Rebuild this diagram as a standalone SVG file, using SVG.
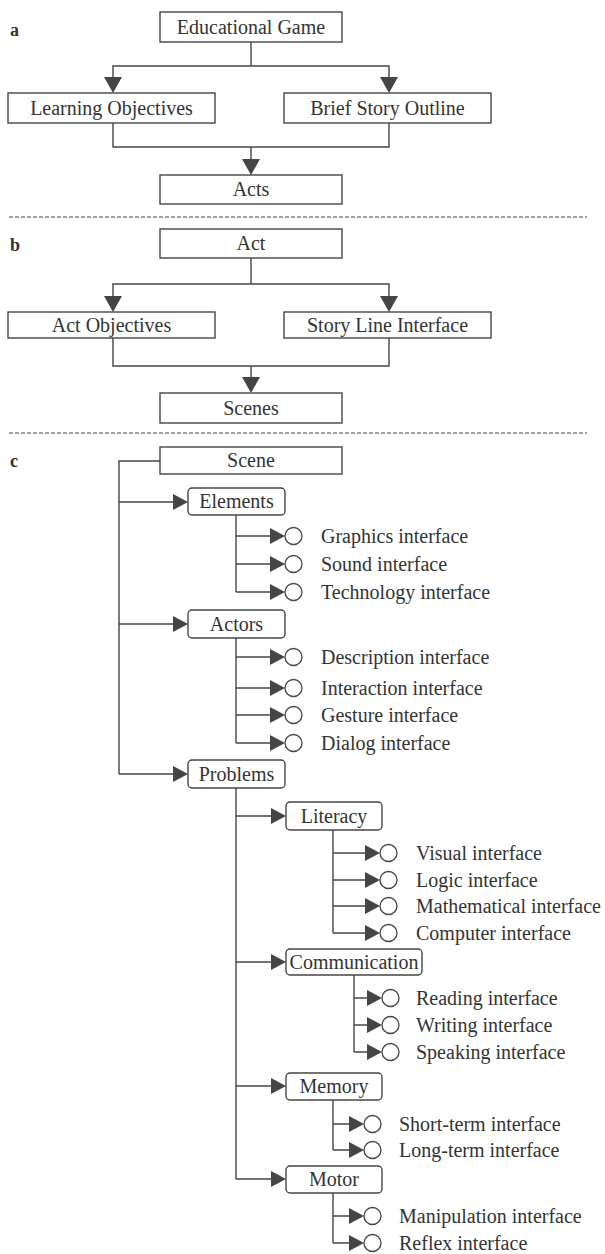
<svg xmlns="http://www.w3.org/2000/svg" width="605" height="1254" viewBox="0 0 605 1254">
<style>
.bg{fill:#ffffff}
.box{fill:#ffffff;stroke:#454545;stroke-width:1.4}
.t{font-family:"Liberation Serif","Times New Roman",serif;font-size:20px;fill:#333333}
.c{text-anchor:middle}
.lab{font-family:"Liberation Serif","Times New Roman",serif;font-size:18px;font-weight:bold;fill:#333333}
.ln{fill:none;stroke:#454545;stroke-width:1.4}
.dash{fill:none;stroke:#444444;stroke-width:1.1;stroke-dasharray:4 2}
.ah{fill:#454545}
.dot{fill:#ffffff;stroke:#454545;stroke-width:1.3}
</style>
<defs>
<path id="ad" d="M-9,-16 L9,-16 L0,0 Z"/>
<path id="ar" d="M-15,-8 L-15,8 L0,0 Z"/>
</defs>
<rect class="bg" x="0" y="0" width="605" height="1254"/>

<g id="section-labels">
<text class="lab" x="10" y="36">a</text>
<text class="lab" x="10" y="251">b</text>
<text class="lab" x="10" y="467">c</text>
</g>
<g id="separators">
<path class="dash" d="M9 217 H587"/>
<path class="dash" d="M9 433 H587"/>
</g>

<g id="connectors">
<path class="ln" d="M251 42 V66 M113 77 V66 H389 V77"/>
<use href="#ad" class="ah" x="113" y="93"/>
<use href="#ad" class="ah" x="389" y="93"/>
<path class="ln" d="M113 123 V147 H389 V123 M251 147 V160"/>
<use href="#ad" class="ah" x="251" y="175"/>

<path class="ln" d="M251 258 V284 M113 296 V284 H389 V296"/>
<use href="#ad" class="ah" x="113" y="312"/>
<use href="#ad" class="ah" x="389" y="312"/>
<path class="ln" d="M113 338 V366 H389 V338 M251 366 V378"/>
<use href="#ad" class="ah" x="251" y="393"/>

<path class="ln" d="M160 461 H119 V774 M119 502 H173 M119 624 H173 M119 774 H173"/>
<use href="#ar" class="ah" x="188" y="502"/>
<use href="#ar" class="ah" x="188" y="624"/>
<use href="#ar" class="ah" x="188" y="774"/>

<path class="ln" d="M236 515 V592 M236 536 H271 M236 564 H271 M236 592 H271"/>
<use href="#ar" class="ah" x="285" y="536"/>
<use href="#ar" class="ah" x="285" y="564"/>
<use href="#ar" class="ah" x="285" y="592"/>

<path class="ln" d="M236 638 V743 M236 657 H271 M236 688 H271 M236 715 H271 M236 743 H271"/>
<use href="#ar" class="ah" x="285" y="657"/>
<use href="#ar" class="ah" x="285" y="688"/>
<use href="#ar" class="ah" x="285" y="715"/>
<use href="#ar" class="ah" x="285" y="743"/>

<path class="ln" d="M236 788 V1179 M236 816 H272 M236 962 H272 M236 1086 H272 M236 1179 H272"/>
<use href="#ar" class="ah" x="286" y="816"/>
<use href="#ar" class="ah" x="286" y="962"/>
<use href="#ar" class="ah" x="286" y="1086"/>
<use href="#ar" class="ah" x="286" y="1179"/>

<path class="ln" d="M333 830 V933 M333 853 H366 M333 880 H366 M333 906 H366 M333 933 H366"/>
<use href="#ar" class="ah" x="380" y="853"/>
<use href="#ar" class="ah" x="380" y="880"/>
<use href="#ar" class="ah" x="380" y="906"/>
<use href="#ar" class="ah" x="380" y="933"/>

<path class="ln" d="M354 975 V1052 M354 998 H368 M354 1025 H368 M354 1052 H368"/>
<use href="#ar" class="ah" x="382" y="998"/>
<use href="#ar" class="ah" x="382" y="1025"/>
<use href="#ar" class="ah" x="382" y="1052"/>

<path class="ln" d="M333 1100 V1150 M333 1124 H350 M333 1150 H350"/>
<use href="#ar" class="ah" x="364" y="1124"/>
<use href="#ar" class="ah" x="364" y="1150"/>

<path class="ln" d="M333 1193 V1243 M333 1216 H350 M333 1243 H350"/>
<use href="#ar" class="ah" x="364" y="1216"/>
<use href="#ar" class="ah" x="364" y="1243"/>
</g>

<g id="n-educational-game"><rect class="box" x="160" y="12" width="182" height="30"/><text class="t c" x="251" y="34">Educational Game</text></g>
<g id="n-learning-objectives"><rect class="box" x="8" y="93" width="207" height="30"/><text class="t c" x="111.5" y="115">Learning Objectives</text></g>
<g id="n-brief-story-outline"><rect class="box" x="284" y="93" width="207" height="30"/><text class="t c" x="387.5" y="115">Brief Story Outline</text></g>
<g id="n-acts"><rect class="box" x="160" y="175" width="182" height="29"/><text class="t c" x="251" y="196">Acts</text></g>

<g id="n-act"><rect class="box" x="160" y="229" width="182" height="29"/><text class="t c" x="251" y="250">Act</text></g>
<g id="n-act-objectives"><rect class="box" x="8" y="312" width="207" height="26"/><text class="t c" x="111.5" y="332">Act Objectives</text></g>
<g id="n-story-line-interface"><rect class="box" x="284" y="312" width="207" height="26"/><text class="t c" x="387.5" y="332">Story Line Interface</text></g>
<g id="n-scenes"><rect class="box" x="160" y="393" width="182" height="30"/><text class="t c" x="251" y="415">Scenes</text></g>

<g id="n-scene"><rect class="box" x="160" y="447" width="182" height="27"/><text class="t c" x="251" y="467">Scene</text></g>
<g id="n-elements"><rect class="box" x="188" y="488" width="97" height="27" rx="4"/><text class="t c" x="236.5" y="508">Elements</text></g>
<g id="n-actors"><rect class="box" x="188" y="610" width="97" height="28" rx="4"/><text class="t c" x="236.5" y="631">Actors</text></g>
<g id="n-problems"><rect class="box" x="188" y="760" width="97" height="28" rx="4"/><text class="t c" x="236.5" y="781">Problems</text></g>
<g id="n-literacy"><rect class="box" x="286" y="802" width="96" height="28" rx="4"/><text class="t c" x="334" y="823">Literacy</text></g>
<g id="n-communication"><rect class="box" x="286" y="949" width="136" height="26" rx="4"/><text class="t c" x="354" y="969">Communication</text></g>
<g id="n-memory"><rect class="box" x="286" y="1073" width="96" height="27" rx="4"/><text class="t c" x="334" y="1093">Memory</text></g>
<g id="n-motor"><rect class="box" x="286" y="1166" width="96" height="27" rx="4"/><text class="t c" x="334" y="1186">Motor</text></g>

<g id="n-graphics"><circle class="dot" cx="293.5" cy="536" r="8.5"/><text class="t" x="321" y="543">Graphics interface</text></g>
<g id="n-sound"><circle class="dot" cx="293.5" cy="564" r="8.5"/><text class="t" x="321" y="571">Sound interface</text></g>
<g id="n-technology"><circle class="dot" cx="293.5" cy="592" r="8.5"/><text class="t" x="321" y="599">Technology interface</text></g>

<g id="n-description"><circle class="dot" cx="293.5" cy="657" r="8.5"/><text class="t" x="321" y="664">Description interface</text></g>
<g id="n-interaction"><circle class="dot" cx="293.5" cy="688" r="8.5"/><text class="t" x="321" y="695">Interaction interface</text></g>
<g id="n-gesture"><circle class="dot" cx="293.5" cy="715" r="8.5"/><text class="t" x="321" y="722">Gesture interface</text></g>
<g id="n-dialog"><circle class="dot" cx="293.5" cy="743" r="8.5"/><text class="t" x="321" y="750">Dialog interface</text></g>

<g id="n-visual"><circle class="dot" cx="388.5" cy="853" r="8.5"/><text class="t" x="416" y="860">Visual  interface</text></g>
<g id="n-logic"><circle class="dot" cx="388.5" cy="880" r="8.5"/><text class="t" x="416" y="887">Logic interface</text></g>
<g id="n-mathematical"><circle class="dot" cx="388.5" cy="906" r="8.5"/><text class="t" x="416" y="913">Mathematical interface</text></g>
<g id="n-computer"><circle class="dot" cx="388.5" cy="933" r="8.5"/><text class="t" x="416" y="940">Computer interface</text></g>

<g id="n-reading"><circle class="dot" cx="390.5" cy="998" r="8.5"/><text class="t" x="416" y="1005">Reading interface</text></g>
<g id="n-writing"><circle class="dot" cx="390.5" cy="1025" r="8.5"/><text class="t" x="416" y="1032">Writing interface</text></g>
<g id="n-speaking"><circle class="dot" cx="390.5" cy="1052" r="8.5"/><text class="t" x="416" y="1059">Speaking interface</text></g>

<g id="n-short-term"><circle class="dot" cx="372.5" cy="1124" r="8.5"/><text class="t" x="399" y="1131">Short-term interface</text></g>
<g id="n-long-term"><circle class="dot" cx="372.5" cy="1150" r="8.5"/><text class="t" x="399" y="1157">Long-term interface</text></g>

<g id="n-manipulation"><circle class="dot" cx="372.5" cy="1216" r="8.5"/><text class="t" x="399" y="1223">Manipulation interface</text></g>
<g id="n-reflex"><circle class="dot" cx="372.5" cy="1243" r="8.5"/><text class="t" x="399" y="1250">Reflex interface</text></g>
</svg>
